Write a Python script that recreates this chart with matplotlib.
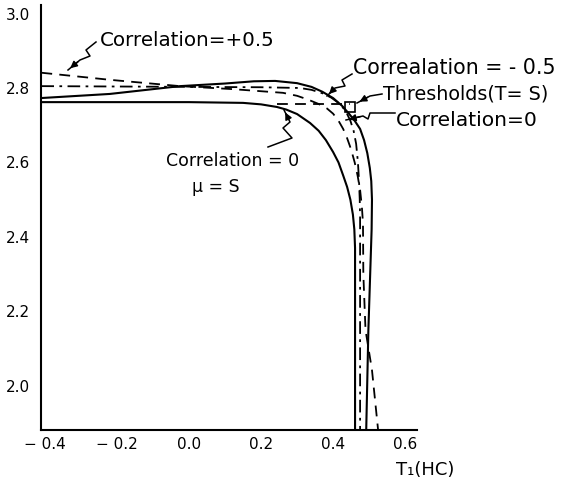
import matplotlib
matplotlib.use("Agg")
import matplotlib.pyplot as plt
from matplotlib.lines import Line2D
from matplotlib.patches import Rectangle

# ---- data ----
# Correlation = 0, mu = S (solid, inner)
corr0_mu_x = [-0.41, -0.2, 0.0, 0.15, 0.20, 0.244, 0.27, 0.30, 0.336, 0.36, 0.38, 0.40, 0.415,
              0.428, 0.439, 0.448, 0.455, 0.459, 0.461, 0.461]
corr0_mu_y = [2.762, 2.762, 2.762, 2.760, 2.756, 2.749, 2.742, 2.730, 2.706, 2.685, 2.660, 2.628, 2.600,
              2.565, 2.534, 2.500, 2.460, 2.420, 2.370, 1.881]

# Correlation = -0.5 (solid, outer)
corrm05_x = [-0.41, -0.22, -0.025, 0.10, 0.18, 0.239, 0.30, 0.34, 0.37, 0.40, 0.425, 0.445, 0.46,
             0.475, 0.486, 0.495, 0.502, 0.506, 0.508, 0.507, 0.503, 0.498, 0.492]
corrm05_y = [2.773, 2.784, 2.805, 2.812, 2.818, 2.819, 2.813, 2.803, 2.790, 2.773, 2.752, 2.730, 2.712,
             2.690, 2.660, 2.625, 2.585, 2.550, 2.500, 2.420, 2.300, 2.150, 1.881]

# Correlation = +0.5 (dashed)
corrp05_x = [-0.41, -0.22, -0.025, 0.12, 0.261, 0.30, 0.33, 0.36, 0.383, 0.40, 0.415, 0.428, 0.439,
             0.45, 0.46, 0.468, 0.475, 0.480, 0.483, 0.484, 0.49, 0.508, 0.525]
corrp05_y = [2.841, 2.822, 2.805, 2.797, 2.787, 2.779, 2.769, 2.757, 2.745, 2.731, 2.712, 2.690, 2.665,
             2.635, 2.600, 2.565, 2.526, 2.480, 2.437, 2.300, 2.150, 2.042, 1.881]

# Correlation = 0 (dash-dot)
corr0_x = [-0.41, 0.0, 0.2, 0.308, 0.34, 0.37, 0.395, 0.419, 0.435, 0.448, 0.457, 0.464, 0.469,
           0.472, 0.474, 0.475, 0.475]
corr0_y = [2.805, 2.803, 2.802, 2.800, 2.795, 2.786, 2.774, 2.757, 2.738, 2.712, 2.685, 2.650, 2.600,
           2.550, 2.500, 2.450, 1.881]

# Thresholds (T = S)
thr_h_x = [0.244, 0.447]
thr_h_y = [2.757, 2.757]

x_ticks = [-0.4, -0.2, 0.0, 0.2, 0.4, 0.6]
x_ticklabels = ["\u2212 0.4", "\u2212 0.2", "0.0", "0.2", "0.4", "0.6"]
y_ticks = [2.0, 2.2, 2.4, 2.6, 2.8, 3.0]
y_ticklabels = ["2.0", "2.2", "2.4", "2.6", "2.8", "3.0"]

W, H = 574, 486
fig = plt.figure(figsize=(W / 100, H / 100), dpi=100)
ax = fig.add_axes([41 / W, 1 - 430 / H, (417 - 41) / W, (430 - 5) / H])

lw = 1.5
ax.plot(corr0_mu_x, corr0_mu_y, color="black", lw=lw, ls="-")
ax.plot(corrm05_x, corrm05_y, color="black", lw=lw, ls="-")
ax.plot(corrp05_x, corrp05_y, color="black", lw=1.3, ls=(0, (6, 4)))
ax.plot(corr0_x, corr0_y, color="black", lw=1.3, ls=(0, (7, 3, 1.5, 3)))
ax.plot(thr_h_x, thr_h_y, color="black", lw=1.3, ls=(0, (6, 4)))
ax.add_patch(Rectangle((0.433, 2.735), 0.028, 0.027, fill=False, ec="black", lw=1.2))

ax.set_xlim(-0.411, 0.633)
ax.set_ylim(1.881, 3.023)
ax.set_xticks(x_ticks)
ax.set_xticklabels(x_ticklabels)
ax.set_yticks(y_ticks)
ax.set_yticklabels(y_ticklabels)
ax.tick_params(length=0, labelsize=11)
ax.tick_params(axis="y", pad=8)
ax.tick_params(axis="x", pad=5)
for s in ["top", "right"]:
    ax.spines[s].set_visible(False)
for s in ["left", "bottom"]:
    ax.spines[s].set_linewidth(1.5)

def fp(px, py):
    return (px / W, 1 - py / H)

def leader(points, head=True):
    pts = [fp(*p) for p in points]
    xs = [p[0] for p in pts]
    ys = [p[1] for p in pts]
    fig.add_artist(Line2D(xs, ys, color="black", lw=1.1, transform=fig.transFigure))
    if head:
        ax.annotate("", xy=pts[-1], xycoords="figure fraction", xytext=pts[-2],
                    textcoords="figure fraction",
                    arrowprops=dict(arrowstyle="-|>", color="black", lw=1.1, mutation_scale=10))

fs = 14
fig.text(100 / W, 1 - 40 / H, "Correlation=+0.5", fontsize=14.3, ha="left", va="center")
leader([(96, 42), (86, 50), (90, 56), (80, 60), (68, 70)])

fig.text(353 / W, 1 - 68 / H, "Correalation = - 0.5", fontsize=14.8, ha="left", va="center")
leader([(352, 74), (342, 80), (345, 86), (335, 88), (327, 96)])

fig.text(383 / W, 1 - 94 / H, "Thresholds(T= S)", fontsize=13.8, ha="left", va="center")
leader([(382, 94), (370, 96), (357, 103)])

fig.text(396 / W, 1 - 120 / H, "Correlation=0", fontsize=14.6, ha="left", va="center")
leader([(395, 113), (370, 113), (368, 119), (363, 116), (346, 120)])

fig.text(233 / W, 1 - 161 / H, "Correlation = 0", fontsize=12.5, ha="center", va="center")
fig.text(216 / W, 1 - 187 / H, "\u03bc = S", fontsize=12.5, ha="center", va="center")
leader([(268, 147), (292, 138), (283, 128), (290, 122), (284, 110)])

fig.text(425 / W, 1 - 470 / H, "T\u2081(HC)", fontsize=13, ha="center", va="center")

fig.savefig("out.png", dpi=100)
